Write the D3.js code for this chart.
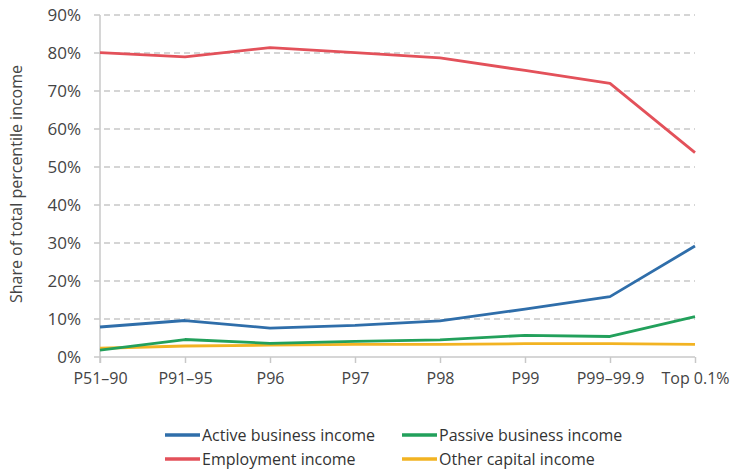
<!DOCTYPE html>
<html><head><meta charset="utf-8">
<script src="https://cdn.jsdelivr.net/npm/d3@7"></script>
<style>
body{margin:0;background:#fff;}
text{font-family:"Open Sans",sans-serif;}
</style></head>
<body><svg id="c" width="731" height="469"></svg>
<script>
const categories = ["P51–90","P91–95","P96","P97","P98","P99","P99–99.9","Top 0.1%"];
const activeBusiness = [7.9, 9.6, 7.6, 8.3, 9.5, 12.6, 15.9, 29.2];
const passiveBusiness = [1.8, 4.6, 3.6, 4.1, 4.5, 5.7, 5.4, 10.6];
const employment = [80.1, 79.0, 81.4, 80.1, 78.7, 75.4, 72.0, 53.8];
const otherCapital = [2.3, 2.9, 3.1, 3.3, 3.3, 3.5, 3.5, 3.3];
const yTicks = [0,10,20,30,40,50,60,70,80,90];
const seriesNames = ["Active business income","Passive business income","Employment income","Other capital income"];
const seriesColors = ["#2f6eaa","#22a05b","#e3515a","#f2b322"];
const seriesData = [activeBusiness, passiveBusiness, employment, otherCapital];

const svg = d3.select("#c");
const x = d3.scalePoint().domain(categories).range([100,695]);
const y = d3.scaleLinear().domain([0,90]).range([357,15]);

// gridlines
svg.append("g").selectAll("line").data(yTicks.filter(d=>d>0)).join("line")
  .attr("x1",94).attr("x2",695).attr("y1",d=>y(d)).attr("y2",d=>y(d))
  .attr("stroke","#c8c8c8").attr("stroke-width",1.5).attr("stroke-dasharray","6,4");

// y axis
const ya = svg.append("g").attr("transform","translate(100,0)")
  .call(d3.axisLeft(y).tickValues(yTicks).tickFormat(d=>d+"%").tickSize(0).tickPadding(19));
ya.select(".domain").attr("stroke","#c8c8c8").attr("stroke-width",1.5).attr("d","M0,15V363");
ya.selectAll("text").attr("font-size",17).attr("fill","#444");
svg.append("line").attr("x1",94).attr("x2",100).attr("y1",y(0)).attr("y2",y(0)).attr("stroke","#c8c8c8").attr("stroke-width",1.5);

// x axis
const xa = svg.append("g").attr("transform","translate(0,357)")
  .call(d3.axisBottom(x).tickSize(6).tickPadding(10));
xa.select(".domain").attr("stroke","#c8c8c8").attr("stroke-width",1.5).attr("d","M100,0H695");
xa.selectAll(".tick line").attr("stroke","#c8c8c8").attr("stroke-width",1.5);
xa.selectAll("text").attr("font-size",16).attr("fill","#444");

// y label
svg.append("text").attr("transform","translate(22,184) rotate(-90)")
  .attr("text-anchor","middle").attr("font-size",16).attr("fill","#444")
  .text("Share of total percentile income");

// lines
const line = d3.line().x((d,i)=>x(categories[i])).y(d=>y(d));
const drawOrder = [3,1,0,2];
drawOrder.forEach(k=>{
  svg.append("path").attr("d",line(seriesData[k])).attr("fill","none")
    .attr("stroke",seriesColors[k]).attr("stroke-width",2.8).attr("stroke-linejoin","round");
});

// legend
const legPos = [[165,435],[402,435],[165,459],[402,459]];
seriesNames.forEach((n,i)=>{
  const [lx,ly] = legPos[i];
  svg.append("line").attr("x1",lx).attr("x2",lx+35).attr("y1",ly).attr("y2",ly)
    .attr("stroke",seriesColors[i]).attr("stroke-width",3.5);
  svg.append("text").attr("x",lx+37).attr("y",ly).attr("dy","0.35em")
    .attr("font-size",16).attr("fill","#333").text(n);
});
</script></body></html>
